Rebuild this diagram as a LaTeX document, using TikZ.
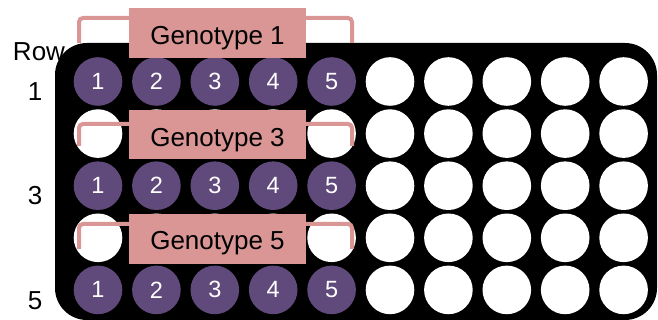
\documentclass[tikz,border=0pt]{standalone}
\usepackage{fontspec}
\setmainfont{Liberation Sans}
\definecolor{pinkbox}{RGB}{217,150,148}
\definecolor{wellpurple}{RGB}{96,74,123}
\tikzset{
  wellw/.style={circle,fill=white,minimum size=48.6pt,inner sep=0pt},
  wellp/.style={circle,fill=wellpurple,minimum size=48.6pt,inner sep=0pt,text=white,font=\fontsize{23.5}{26}\selectfont},
  genobox/.style={rectangle,fill=pinkbox,minimum width=177pt,minimum height=49.5pt,inner sep=0pt,anchor=north west},
  genotext/.style={anchor=base,inner sep=0pt,font=\fontsize{26}{30}\selectfont},
  bracket/.style={draw=pinkbox,line width=4pt,rounded corners=4pt},
  rowlab/.style={inner sep=0pt,font=\fontsize{26}{30}\selectfont}
}
\begin{document}
\begin{tikzpicture}[x=1pt,y=-1pt]
\useasboundingbox (0,0) rectangle (658,320);
% plate
\fill[black,rounded corners=32pt] (55,43) rectangle (657,320);
% wells
\foreach \i in {0,...,9}{
  \foreach \j in {0,...,4}{
    \pgfmathsetmacro{\cx}{98+58.4*\i}
    \pgfmathsetmacro{\cy}{81.5+52.1*\j}
    \pgfmathtruncatemacro{\num}{\i+1}
    \pgfmathtruncatemacro{\isp}{(\i<5)&&(\j==0||\j==2||\j==4)}
    \ifnum\isp=1
      \node[wellp] (w\i-\j) at (\cx,\cy) {\num};
    \else
      \node[wellw] (w\i-\j) at (\cx,\cy) {};
    \fi
  }
}
% brackets
\coordinate (b1l) at (79,43); \coordinate (b1r) at (352,43);
\coordinate (b3l) at (79,146); \coordinate (b3r) at (352,146);
\coordinate (b5l) at (79,249); \coordinate (b5r) at (352,249);
\draw[bracket] (b1l) -- (79,18) -- (352,18) -- (b1r);
\draw[bracket] (b3l) -- (79,124) -- (352,124) -- (b3r);
\draw[bracket] (b5l) -- (79,224) -- (352,224) -- (b5r);
% genotype boxes
\node[genobox] (g1) at (129,8) {};
\node[genobox] (g3) at (129,109.5) {};
\node[genobox] (g5) at (129,214) {};
\node[genotext] (t1) at (217.5,45) {Genotype 1};
\node[genotext] (t3) at (217.5,146.5) {Genotype 3};
\node[genotext] (t5) at (217.5,250) {Genotype 5};
% row labels
\node[rowlab] (rowh) at (39,51.5) {Row};
\node[rowlab] (r1) at (35,91.5) {1};
\node[rowlab] (r3) at (35,196) {3};
\node[rowlab] (r5) at (35,300.5) {5};
\end{tikzpicture}
\end{document}
